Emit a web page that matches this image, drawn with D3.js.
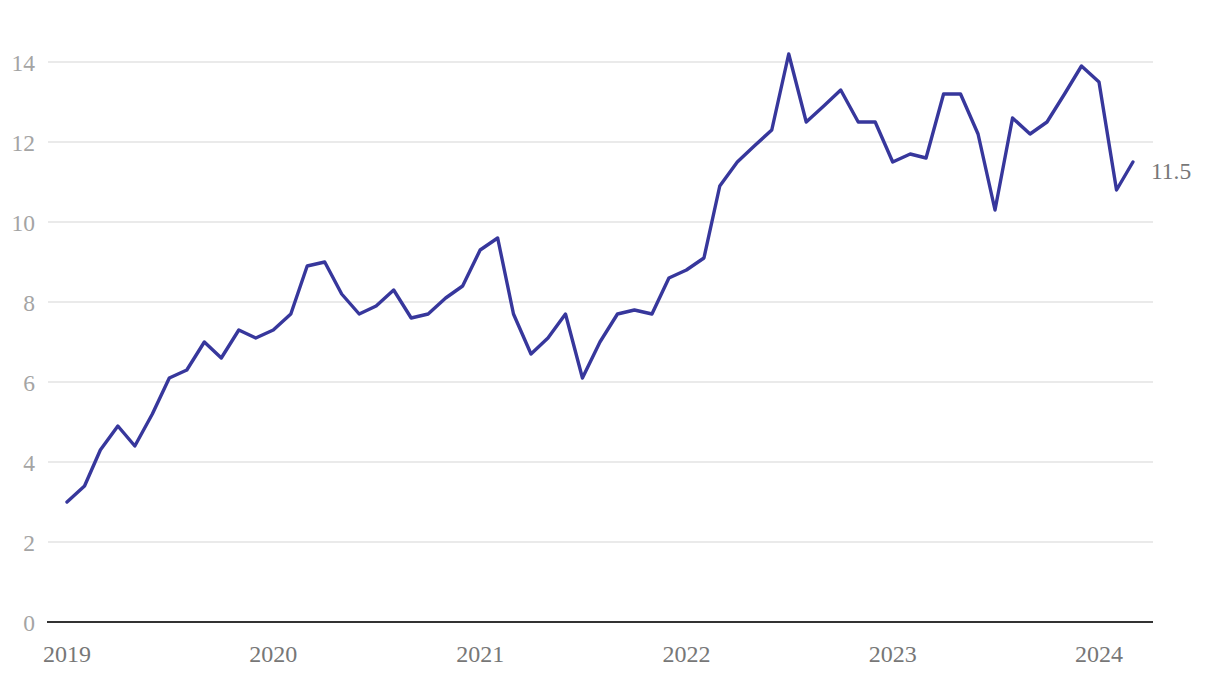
<!DOCTYPE html>
<html><head><meta charset="utf-8">
<script src="https://cdn.jsdelivr.net/npm/d3@7"></script>
<style>body{margin:0;background:#fff}svg{display:block}</style>
</head><body>
<svg id="c" width="1220" height="676"></svg>
<script>
const startYear = 2019;
const values = [3.0,3.4,4.3,4.9,4.4,5.2,6.1,6.3,7.0,6.6,7.3,7.1,
  7.3,7.7,8.9,9.0,8.2,7.7,7.9,8.3,7.6,7.7,8.1,8.4,
  9.3,9.6,7.7,6.7,7.1,7.7,6.1,7.0,7.7,7.8,7.7,8.6,
  8.8,9.1,10.9,11.5,11.9,12.3,14.2,12.5,12.9,13.3,12.5,12.5,
  11.5,11.7,11.6,13.2,13.2,12.2,10.3,12.6,12.2,12.5,13.2,13.9,
  13.5,10.8,11.5];
const yTicks = [0,2,4,6,8,10,12,14];
const xTickYears = [2019,2020,2021,2022,2023,2024];
const lastLabel = "11.5";

const data = values.map((v,i)=>({date:new Date(startYear, i, 1), v}));
const svg = d3.select("#c");
const font = "'Liberation Serif','DejaVu Serif',serif";
const x = d3.scaleTime().domain([new Date(2019,0,1), new Date(2024,0,1)]).range([67,1099]);
const y = d3.scaleLinear().domain([0,14]).range([622,62]);
const xL = 48, xR = 1153;

const g = svg.append("g");
g.selectAll("line.grid").data(yTicks.filter(d=>d>0)).join("line")
  .attr("x1",xL).attr("x2",xR).attr("y1",d=>y(d)).attr("y2",d=>y(d))
  .attr("stroke","#e3e3e3").attr("stroke-width",1.5);
g.append("line").attr("x1",xL-1).attr("x2",xR).attr("y1",y(0)).attr("y2",y(0))
  .attr("stroke","#333").attr("stroke-width",2);
g.selectAll("text.yl").data(yTicks).join("text")
  .attr("x",35).attr("y",d=>y(d)+8.5).attr("text-anchor","end")
  .attr("font-family",font).attr("font-size",23.5).attr("fill","#a4a4a4").text(d=>d);
g.selectAll("text.xl").data(xTickYears).join("text")
  .attr("x",d=>x(new Date(d,0,1))).attr("y",661.5).attr("text-anchor","middle")
  .attr("font-family",font).attr("font-size",24).attr("fill","#777").text(d=>d);

const line = d3.line().x(d=>x(d.date)).y(d=>y(d.v));
g.append("path").datum(data).attr("d",line).attr("fill","none")
  .attr("stroke","#37379c").attr("stroke-width",3.4).attr("stroke-linejoin","round").attr("stroke-linecap","round");
const last = data[data.length-1];
g.append("text").attr("x",x(last.date)+18).attr("y",y(last.v)+16.5)
  .attr("font-family",font).attr("font-size",23.5).attr("fill","#777").text(lastLabel);
</script>
</body></html>
